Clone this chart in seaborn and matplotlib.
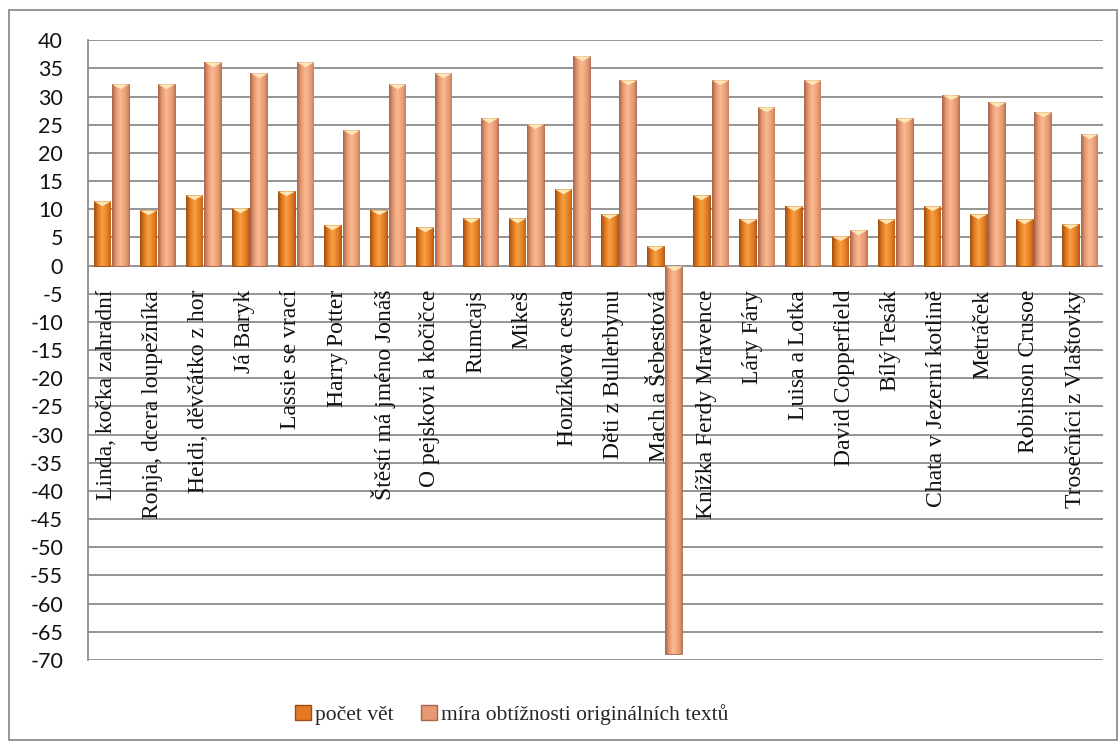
import matplotlib
matplotlib.use("Agg")
import matplotlib.pyplot as plt
import numpy as np
import pandas as pd
import seaborn as sns
from matplotlib.colors import LinearSegmentedColormap
from matplotlib.patches import Rectangle

# ---------------------------------------------------------------------------
# Data
# ---------------------------------------------------------------------------
knihy = [
    "Linda, kočka zahradní", "Ronja, dcera loupežníka", "Heidi, děvčátko z hor",
    "Já Baryk", "Lassie se vrací", "Harry Potter", "Štěstí má jméno Jonáš",
    "O pejskovi a kočičce", "Rumcajs", "Mikeš", "Honzíkova cesta",
    "Děti z Bullerbynu", "Mach a Šebestová", "Knížka Ferdy Mravence",
    "Láry Fáry", "Luisa a Lotka", "David Copperfield", "Bílý Tesák",
    "Chata v Jezerní kotlině", "Metráček", "Robinson Crusoe",
    "Trosečníci z Vlaštovky",
]
pocet_vet = [11.5, 9.9, 12.5, 10.2, 13.2, 7.2, 9.9, 6.8, 8.4, 8.4, 13.6,
             9.2, 3.5, 12.5, 8.2, 10.5, 5.2, 8.2, 10.5, 9.2, 8.2, 7.3]
mira_obtiznosti = [32.2, 32.2, 36.2, 34.2, 36.2, 24.1, 32.2, 34.2, 26.2, 25.1,
                   37.2, 33.0, -69.0, 33.0, 28.1, 33.0, 6.3, 26.2, 30.2, 29.1,
                   27.2, 23.3]
serie = ["počet vět", "míra obtížnosti originálních textů"]
y_ticks = list(range(-70, 45, 5))

df = pd.DataFrame({
    "kniha": knihy * 2,
    "hodnota": pocet_vet + mira_obtiznosti,
    "serie": [serie[0]] * len(knihy) + [serie[1]] * len(knihy),
})

# colours: base fill, dark edge, light highlight
barvy = {
    serie[0]: ("#e27a22", "#a04c0c", "#f7a040"),
    serie[1]: ("#e69a74", "#a8654a", "#fab88e"),
}

sns.set_theme(style="white")
plt.rcParams["font.family"] = ["Lato", "DejaVu Sans"]

fig = plt.figure(figsize=(11.2, 7.44), dpi=100)
ax = fig.add_axes([0.0786, 0.113, 0.906, 0.833])

sns.barplot(data=df, x="kniha", y="hodnota", hue="serie", hue_order=serie,
            palette=[barvy[s][0] for s in serie], width=0.8, gap=0.1,
            ax=ax, legend=False, zorder=3)

# horizontal gradient inside each bar (imitates the bevelled Excel look)
grad = np.concatenate([np.linspace(0, 1, 25), np.linspace(1, 0.25, 25)])[None, :]
tri = [(-1, 0), (1, 0), (0, -0.55)]
for cont, s in zip(ax.containers, serie):
    base, edge, light = barvy[s]
    cmap = LinearSegmentedColormap.from_list(s, [edge, base, light])
    for p in cont.patches:
        x0, w = p.get_x(), p.get_width()
        y0, h = p.get_y(), p.get_height()
        p.set_edgecolor(edge)
        p.set_linewidth(0.6)
        im = ax.imshow(grad, cmap=cmap, aspect="auto", zorder=3.5,
                       extent=(x0, x0 + w, min(y0, y0 + h), max(y0, y0 + h)))
        im.set_clip_path(p)
        # light chevron at the upper end of every bar
        ax.scatter([x0 + w / 2], [max(y0, y0 + h)], marker=tri, s=150,
                   color="#fde6b6", zorder=4, linewidths=0)

ax.set_xlim(-0.5, len(knihy) - 0.5)
ax.set_ylim(-70, 40)

# grid and axes styling
ax.set_yticks(y_ticks)
ax.set_yticklabels([str(t) for t in y_ticks], fontsize=15.5, color="#111111")
ax.tick_params(axis="y", length=0, pad=18)
ax.set_xticks([])
ax.set_xlabel("")
ax.set_ylabel("")
ax.yaxis.grid(True, color="#8c8c8c", linewidth=1.3, zorder=0)
ax.set_axisbelow(True)
for side in ["top", "right", "bottom"]:
    ax.spines[side].set_visible(False)
ax.spines["left"].set_color("#8c8c8c")
ax.spines["left"].set_linewidth(1.3)

# category labels hang down from the zero line inside the plot
for i, k in enumerate(knihy):
    ax.text(i - 0.1, -4.3, k, rotation=90, ha="center", va="top",
            family="Liberation Serif", fontsize=17, color="#111111", zorder=5)

# legend
handles = [Rectangle((0, 0), 1, 1, facecolor=barvy[s][0],
                     edgecolor=barvy[s][1]) for s in serie]
fig.legend(handles, serie, loc="lower center", bbox_to_anchor=(0.457, 0.0),
           ncol=2, frameon=False, handlelength=0.7, handleheight=0.7,
           handletextpad=0.2, columnspacing=1.3,
           prop={"family": "Liberation Serif", "size": 15.5})

# outer chart border
fig.patches.append(Rectangle((9 / 1120, 4 / 744), 1108 / 1120, 730 / 744,
                             transform=fig.transFigure, fill=False,
                             edgecolor="#8c8c8c", linewidth=1.3))

fig.savefig("out.png", dpi=100)
